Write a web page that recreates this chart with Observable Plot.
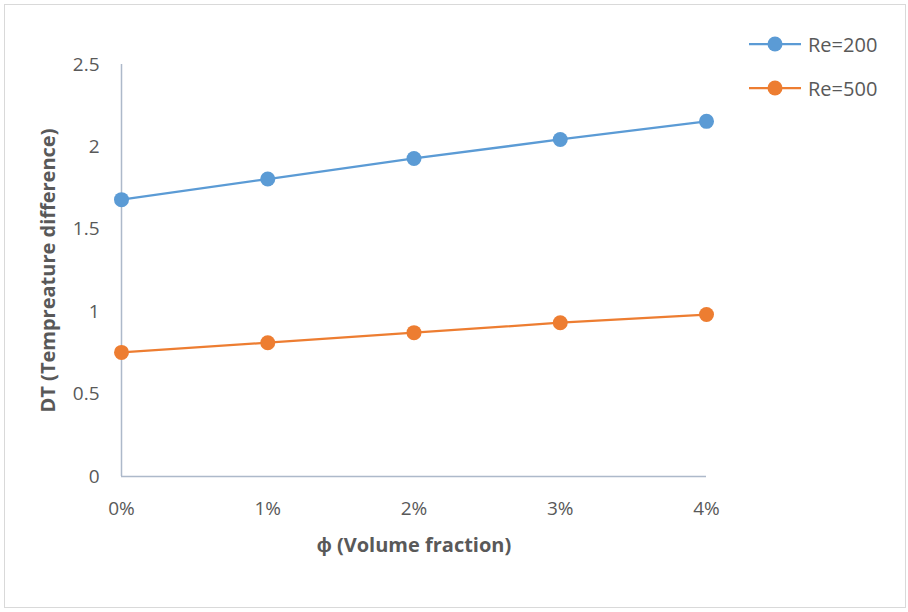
<!DOCTYPE html>
<html><head><meta charset="utf-8">
<script src="https://cdn.jsdelivr.net/npm/d3@7"></script>
<script src="https://cdn.jsdelivr.net/npm/@observablehq/plot@0.6"></script>
<style>
body{margin:0;background:#fff;}
#wrap{position:relative;width:908px;height:612px;overflow:hidden;}
#border{position:absolute;left:4px;top:4px;width:900px;height:602px;border:1px solid #d9d9d9;pointer-events:none;}
#legend{position:absolute;left:748px;top:30px;font-family:"Open Sans",sans-serif;font-size:20px;color:#595959;}
.item{display:flex;align-items:center;height:28px;margin-bottom:16px;}
.item span{margin-left:6px;}
</style></head>
<body>
<div id="wrap"><div id="border"></div><div id="legend"></div></div>
<script>
const phi = [0, 1, 2, 3, 4];
const xTickLabels = ["0%", "1%", "2%", "3%", "4%"];
const yTicks = [0, 0.5, 1, 1.5, 2, 2.5];
const seriesNames = ["Re=200", "Re=500"];
const seriesColors = ["#5b9bd5", "#ed7d31"];
const re200 = [1.68, 1.805, 1.93, 2.045, 2.155];
const re500 = [0.753, 0.812, 0.873, 0.933, 0.983];
const xTitle = "ϕ (Volume fraction)";
const yTitle = "DT (Tempreature difference)";

const rows = [];
[re200, re500].forEach((vals, s) => vals.forEach((v, i) => rows.push({x: phi[i], y: v, series: seriesNames[s]})));

const axisColor = "#adb9ca";
const chart = Plot.plot({
  width: 908, height: 612,
  marginLeft: 121, marginRight: 202, marginTop: 64, marginBottom: 136,
  style: {fontFamily: "'Open Sans', sans-serif", fontSize: "20px", color: "#595959", background: "transparent"},
  x: {domain: [0, 4]},
  y: {domain: [0, 2.5]},
  color: {domain: seriesNames, range: seriesColors},
  marks: [
    Plot.ruleX([0], {stroke: axisColor, strokeWidth: 1.5}),
    Plot.ruleY([0], {stroke: axisColor, strokeWidth: 1.5}),
    Plot.axisX({ticks: phi, tickFormat: i => xTickLabels[i], tickSize: 0, tickPadding: 25, label: null, fontSize: 19}),
    Plot.axisY({ticks: yTicks, tickFormat: d => String(d), tickSize: 0, tickPadding: 22, label: null, fontSize: 19}),
    Plot.line(rows, {x: "x", y: "y", z: "series", stroke: "series", strokeWidth: 2.25}),
    Plot.dot(rows, {x: "x", y: "y", fill: "series", r: 7.5, stroke: null}),
    Plot.text([xTitle], {frameAnchor: "bottom", dy: 75, fontWeight: "bold", fontSize: 20, fill: "#595959"}),
    Plot.text([yTitle], {frameAnchor: "left", textAnchor: "middle", dx: -73, rotate: -90, fontWeight: "bold", fontSize: 20, fill: "#595959"})
  ]
});
document.getElementById("wrap").prepend(chart);

const legend = document.getElementById("legend");
seriesNames.forEach((name, i) => {
  const c = seriesColors[i];
  const div = document.createElement("div");
  div.className = "item";
  div.innerHTML = `<svg width="54" height="20"><line x1="1" y1="10" x2="53" y2="10" stroke="${c}" stroke-width="2.25"/><circle cx="27" cy="10" r="7.5" fill="${c}"/></svg><span>${name}</span>`;
  legend.appendChild(div);
});
</script>
</body></html>
